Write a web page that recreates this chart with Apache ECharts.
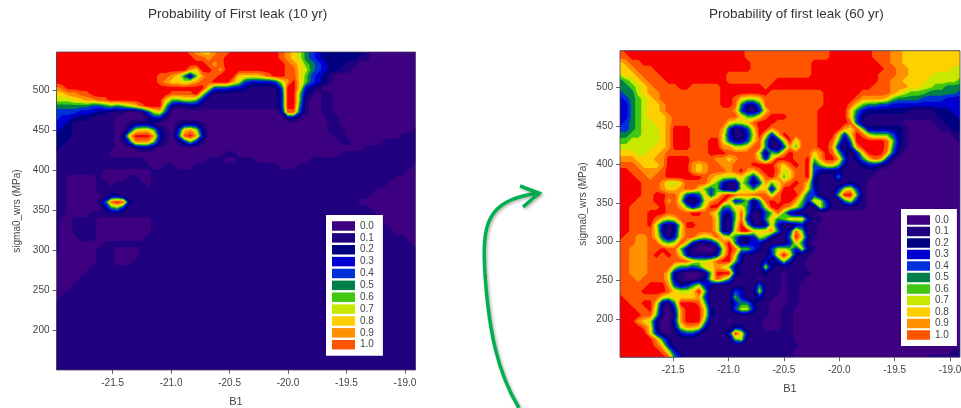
<!DOCTYPE html>
<html><head><meta charset="utf-8">
<style>html,body{margin:0;padding:0;background:#fff}#c{width:961px;height:408px}</style>
<script src="https://cdn.jsdelivr.net/npm/echarts@6/dist/echarts.min.js"></script>
</head><body><div id="c"></div>
<script>
// Contour band at each grid node: 0-9,a = legend bands 0.0 .. 1.0, b = the red band above 1.0.
const legendLabels = ['0.0','0.1','0.2','0.3','0.4','0.5','0.6','0.7','0.8','0.9','1.0'];
const bandColors = ['#3c0080','#20007f','#000080','#0000d0','#0030d8','#008048','#40c810','#c8e800','#ffd000','#ff9000','#ff5400','#f80000'];
const xTicks = [-21.5,-21,-20.5,-20,-19.5,-19];
const yTicks = [200,250,300,350,400,450,500];
const xRange = [-21.98,-18.91];
const yRange = [150,548];

// rows top (548 MPa) to bottom (150 MPa); a short row repeats its last value to the right edge
const leak10yr = [
"bbbbbbbbbb bbbbbbbbbb bba9889aab bbbbbbba98 7543222222 2100000000",
"bbbbbbbbbb bbbbbbbbbb bbbaa9aabb bbbbbbba98 7543222222 1100000000",
"bbbbbbbbbb bbbbbbbbbb bbbbba9abb bbbbbbbba9 8654322211 0000000000",
"bbbbbbbbbb bbbbbbbbbb bb98bba9bb bbbbbbbbaa 8754322110 0000000000",
"bbbbbbbbbb bbbbbbbaa9 85169aabbb 888 89abbaa 8643210000 0000000000",
"bbbbbbbbbb bbbbbbba98 8789aabbb9 7433334 79b 8643210000 0000000000",
"9abbbbbbbb bbbbbbbbbb bbbbb84443 3211111 4bb 8321000000 0000000000",
"8899aabbbb bbbbbbbbba aaab731111 111111 13bb 6210110000 0000000000",
"7778899aab bbbbbbbb86 6776311111 1111111 3bb 6100110000 0000000000",
"5555554456 5678abbb62 1122111111 1111111 3bb 5100110000 0000000000",
"4444333221 1100147840 0000000000 0000000 2aa 4100110000 0000000000",
"4332221111 0000013310 0000000000 0000000 022 1000011000 0000000000",
"3321111111 0012221000 1222100000 0000000000 0000011000 0000000000",
"3221111111 0037886210 3897200000 0000000000 0000011100 0000000001",
"2221111111 028bbb9310 4ab9300000 0000000000 0000001100 0000000111",
"2211111111 0149996210 1363100000 0000000000 0000000110 0000111111",
"2111111111 0001221000 0000000000 0000000000 0000000000 0111111111",
"1111111110 0000000000 0000000011 0000000000 0000000111 1111111111",
"1111111111 1111100000 0000011100 1110000000 0011111111 1111111111",
"1111111111 1111110011 0001111111 1111111000 1111111111 1111111110",
"1111111100 0000001111 1111111111 1111111111 1111111111 1111111100",
"1100000100 0011001111 1111111111 1111111111 1111111111 1111110000",
"1100000110 1111101111 1111111111 1111111111 1111111111 1111100000",
"1100000111 1111111111 1111111111 1111111111 1111111111 1110000000",
"1100000012 2111111111 1111111111 1111111111 1111111111 1100000000",
"110000014a ba21111111 1111111111 1111111111 1111111111 0000000000",
"1100000025 6311111111 1111111111 1111111111 1111111111 1100000000",
"1100001111 1111111111 1111111111 1111111111 1111111111 1110000000",
"1001111000 0000001111 1111111111 1111111111 1111111111 1111000000",
"1001111000 0000001111 1111111111 1111111111 1111111111 1111100000",
"1001111000 0000001111 1111111111 1111111111 1111111111 1111110000",
"1000111000 0000011111 1111111111 1111111111 1111111111 1111111100",
"1000000011 1111111111 1111111111 1111111111 1111111111 1111111110",
"1000000111 0000111111",
"0000000111 0000111111",
"0000000111 0001111111",
"0000001111",
"0000011111",
"0000111111",
"0001111111",
"0011111111",
"0111111111",
"1","1","1","1","1","1","1","1","1","1","1","1"
];

const leak60yr = [
"abbbbbbbbb bbbbbbbbbb baaaaaaaaa aaaaabbbbb bbaaa99888 8888888",
"aabbbbbbbb bbbbbbbbbb baaaaaaaaa aaaaabbbbb bbaaa99888 8888888",
"89aabbbbbb bbbbbbbbbb bbaaaaaaaa aabbbbbbbb bbbaa99888 8888888",
"889aaabbbb bbbbbbbbbb bbaaaaaaaa aabbbbbbbb bbbbaa9988 8888877",
"7889aaabbb bbbbbbbbaa aaaaaaaaaa aabbbbbbbb bbbaaa9988 8877777",
"56789aaabb bbbbbbbbaa aaaaaabbbb bbbbbbbbbb bbbaa99888 8777776",
"556789aaaa bbaaaaabbb bbbbabbbbb bbbbbbbbbb bbaaa99988 7766555",
"4557899aaa aaaaaaabbb bbbbbaaaaa aaaabbbbbb aaaaa98766 6555554",
"3456789aaa aaaaaaabba 8778aaaaaa aaaabbbbba 9999865555 4444333",
"3356788 9aa aaaaaaabba 5225aaaaaa aaaabbbba8 6554433333 3333333",
"3356788 9aa aaaaaaaaa9 41138aaaaa aaabbbbb85 3222222211 1122233",
"3356788 89a aaaaaaaaaa 8668abbbaa aaabbbbb84 2111111111 1112223",
"3456778 89a aaaaaaaa87 78abbbaaaa aaabbbbba4 1111111000 0011222",
"4456777 89b bbaaaaa941 248bb9aaaa aaabbbb98a 6222222100 0001122",
"5566777 89b bbaaaaa831 137b838baa aaabbb838b a766642100 0000011",
"6677777 89b bbaaabb842 248a5127b7 aaabba615b bbbba62100 0000001",
"7777778 89b bbaaabb997 78aa511496 aaabb93139 bbbba52100 0000000",
"8887788 9aa aaaaabbbaa aaa71659ba aa89ba6213 8bbb941000 0000000",
"9998889 9bb bbaaaa9989 aaa838bbba ab69bb9412 58a9410000 0000000",
"aaa9888 9bb bb989aa99a aabbbb98ab ab46886211 2332100000 0000000",
"bbaa999 abb bb989aaa9a b98abba78a ab42222111 1110000000 0000000",
"bbbaa9aabb bbbba98777 8637ab968a ab31115111 1100000000 0000000",
"bbbbaaa977 8aaaa86311 751496 89ab a821111121 1000000000 0000000",
"bbbbaaa988 9aa8646211 77588 27bba a731113784 1000000000 0000000",
"bbbbaabbaa 8434847aba 99aaa7abbb 8441116bb6 1000000000 0000000",
"bbbaaabb9a 711279ab83 4615ababb9 6387311573 1000000000 0000000",
"bbaaaaabaa 96358bb558 85237bba97 5117411111 1000000000 0000000",
"bbaaabbbaa aabba97326 a51146a621 1110000000",
"bbaaaba878 aaaaaa8216 a311585688 8311000000",
"bbaaab7312 7bbaaa8217 b621283112 3110000000",
"bbaaaa8212 8aaaaa8218 bb8889513a 6110000000",
"baa99a8413 8aa878a875 223762115b 8210000000",
"aaa99aa767 a83112 59b5 1233111138 5100000000",
"aa999aabaa 62100017ba 6642147763 7210000000",
"aa999ababa 83111138b8 2111138b82 1100000000",
"aa999aaaaa aa8778abb6 2111313731 1000000000",
"aa999aaaa7 5545889862 1111721111 1000000000",
"aa999aaa82 100016bbb3 1111211011 1100000000",
"aaa9aaaa82 100127a851 1110111011 1000000000",
"aaaaabbb94 2357321111 1115111011 0",
"aaaabbbba8 778b611114 3117111011 0",
"baaaaaa878 8889411116 3113110011 0",
"bbaabb8215 bbba611113 5521100011 0",
"bbbaab7103 9bbb821114 7731100110",
"bbbbaa6102 9bbb821111 1111100110",
"bbb9872003 9bbb611101 1111000110",
"bbbba82002 7998311112 2111000110",
"bbbbb83101 344211113b 8211111110",
"bbbbbb9521 1111111116 7111111110",
"bbbbbba831 1111111111 1111111111 0",
"bbbbbbba73 1111111111 1111111110 0000000000 0000000000 0000011",
"bbbbbbbba5 3111111111 1111111110 0000000000 0000000000 0111111"
];

function parseGrid(rows, ncols) {
  return rows.map(function (r) {
    var s = r.replace(/\s/g, ''), out = [];
    for (var i = 0; i < ncols; i++) out.push(parseInt(s[Math.min(i, s.length - 1)], 16));
    return out;
  });
}
var grid10 = parseGrid(leak10yr, 60), grid60 = parseGrid(leak60yr, 57);

// Filled region of one contour band, cell by cell, through the axis scales.
function bandPath(grid, band, api) {
  var nr = grid.length, nc = grid[0].length, thr = band - 0.5, d = [];
  function X(c) { return xRange[0] + (xRange[1] - xRange[0]) * c / (nc - 1); }
  function Y(r) { return yRange[1] - (yRange[1] - yRange[0]) * r / (nr - 1); }
  for (var r = 0; r < nr - 1; r++) for (var c = 0; c < nc - 1; c++) {
    var q = [[c, r], [c + 1, r], [c + 1, r + 1], [c, r + 1]], pts = [];
    for (var i = 0; i < 4; i++) {
      var a = q[i], b = q[(i + 1) % 4], va = grid[a[1]][a[0]], vb = grid[b[1]][b[0]];
      if (va >= thr) pts.push(a);
      if ((va >= thr) !== (vb >= thr)) {
        var t = (thr - va) / (vb - va);
        pts.push([a[0] + (b[0] - a[0]) * t, a[1] + (b[1] - a[1]) * t]);
      }
    }
    if (pts.length < 3) continue;
    for (var k = 0; k < pts.length; k++) {
      var p = api.coord([X(pts[k][0]), Y(pts[k][1])]);
      d.push((k ? 'L' : 'M') + p[0].toFixed(2) + ' ' + p[1].toFixed(2));
    }
    d.push('Z');
  }
  return d.join('');
}

var series = [];
[grid10, grid60].forEach(function (g, panel) {
  bandColors.forEach(function (col, band) {
    series.push({
      type: 'custom', name: legendLabels[band] || 'above 1.0', xAxisIndex: panel, yAxisIndex: panel,
      coordinateSystem: 'cartesian2d', silent: true, animation: false, clip: true,
      itemStyle: { color: col },
      data: [[xTicks[0], yTicks[0]]],
      renderItem: function (params, api) {
        return { type: 'path', shape: { pathData: bandPath(g, band, api) }, style: { fill: col, stroke: null } };
      }
    });
  });
});

function xAxis(i, gap) {
  return { gridIndex: i, type: 'value', min: xRange[0], max: xRange[1], name: 'B1', nameLocation: 'middle', nameGap: gap,
    nameTextStyle: { fontFamily: 'Liberation Sans', fontSize: 11, color: '#444' },
    axisLine: { show: false }, splitLine: { show: false },
    axisTick: { show: true, length: 4, customValues: xTicks, lineStyle: { color: '#666' } },
    axisLabel: { fontFamily: 'Liberation Sans', fontSize: 10, color: '#444', margin: 8, customValues: xTicks, formatter: function (v) { return v.toFixed(1); } } };
}
function yAxis(i, gap) {
  return { gridIndex: i, type: 'value', min: yRange[0], max: yRange[1], name: 'sigma0_wrs (MPa)', nameLocation: 'middle', nameGap: gap, nameRotate: 90,
    nameTextStyle: { fontFamily: 'Liberation Sans', fontSize: 10, color: '#444' },
    axisLine: { show: false }, splitLine: { show: false },
    axisTick: { show: true, length: 4, customValues: yTicks, lineStyle: { color: '#666' } },
    axisLabel: { fontFamily: 'Liberation Sans', fontSize: 10, color: '#444', margin: 7, customValues: yTicks } };
}
function legend(left, top, gap, padRight) {
  return { show: true, orient: 'vertical', left: left, top: top, data: legendLabels, selectedMode: false,
    backgroundColor: '#fff', padding: [6, padRight, 6, 6], itemWidth: 23, itemHeight: 9.5, itemGap: gap, icon: 'rect',
    textStyle: { fontFamily: 'Liberation Sans', fontSize: 10, color: '#444', lineHeight: 10, padding: [0, 0, 0, 0] } };
}
var arrowStyle = { fill: null, stroke: '#00b050', lineWidth: 3.5, shadowBlur: 3, shadowColor: 'rgba(0,0,0,0.3)', shadowOffsetX: 1.5, shadowOffsetY: 1.5 };

var chart = echarts.init(document.getElementById('c'), null, { renderer: 'canvas' });
chart.setOption({
  animation: false,
  title: [
    { text: 'Probability of First leak (10 yr)', left: 143, top: 2, textStyle: { fontFamily: 'Liberation Sans', fontSize: 13.5, fontWeight: 'normal', color: '#333' } },
    { text: 'Probability of first leak (60 yr)', left: 704, top: 2, textStyle: { fontFamily: 'Liberation Sans', fontSize: 13.5, fontWeight: 'normal', color: '#333' } }
  ],
  grid: [
    { left: 56.5, top: 52, width: 359, height: 318, outerBoundsMode: 'none', show: true, z: 3, borderColor: 'rgba(70,60,90,0.75)', borderWidth: 1, backgroundColor: 'transparent' },
    { left: 620, top: 50.7, width: 340, height: 306.6, outerBoundsMode: 'none', show: true, z: 3, borderColor: 'rgba(70,60,90,0.75)', borderWidth: 1, backgroundColor: 'transparent' }
  ],
  xAxis: [xAxis(0, 26), xAxis(1, 26)],
  yAxis: [yAxis(0, 34), yAxis(1, 32)],
  legend: [legend(326, 215, 1.87, 9), legend(901, 209, 1.5, 8)],
  series: series,
  graphic: [
    { type: 'bezierCurve', silent: true, z: 20, shape: { x1: 519, y1: 408, cpx1: 497, cpy1: 372, cpx2: 489, cpy2: 330, x2: 485, y2: 275 }, style: arrowStyle },
    { type: 'bezierCurve', silent: true, z: 20, shape: { x1: 485, y1: 275, cpx1: 482, cpy1: 225, cpx2: 485, cpy2: 200, x2: 539, y2: 193 }, style: arrowStyle },
    { type: 'polyline', silent: true, z: 20, shape: { points: [[520, 186], [539, 193], [523, 207]] }, style: arrowStyle }
  ]
});
</script></body></html>
